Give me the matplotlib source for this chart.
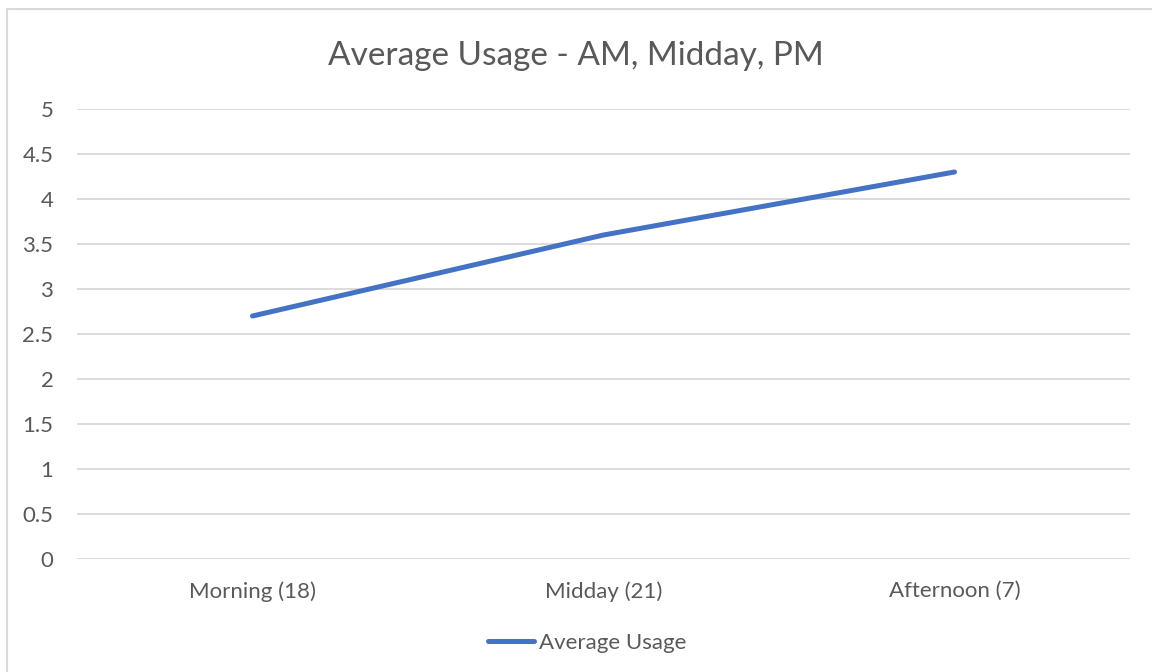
import matplotlib.pyplot as plt
from matplotlib.lines import Line2D
from matplotlib.patches import Rectangle

categories = ["Morning (18)", "Midday (21)", "Afternoon (7)"]
average_usage = [2.7, 3.6, 4.3]
y_ticks = [0, 0.5, 1, 1.5, 2, 2.5, 3, 3.5, 4, 4.5, 5]
y_labels = ["0", "0.5", "1", "1.5", "2", "2.5", "3", "3.5", "4", "4.5", "5"]

TEXT = "#595959"
GRID = "#D9D9D9"
BLUE = "#4472C4"

plt.rcParams["font.family"] = ["Lato", "DejaVu Sans"]

fig = plt.figure(figsize=(11.52, 6.72), dpi=100)
fig.patches.append(Rectangle((7 / 1152, -0.1), 1.2, 1.1 - 9.5 / 672, transform=fig.transFigure,
                             fill=False, edgecolor=GRID, linewidth=1.5))

axis = fig.add_axes([77 / 1152, 1 - 559 / 672, (1130 - 77) / 1152, (559 - 109) / 672])
x = range(len(categories))
axis.plot(x, average_usage, color=BLUE, linewidth=3.6, solid_capstyle="round", label="Average Usage")
axis.set_xlim(-0.5, len(categories) - 0.5)
axis.set_ylim(0, 5)
axis.set_yticks(y_ticks, y_labels)
axis.set_xticks(list(x), categories)
axis.tick_params(length=0, labelsize=16, colors=TEXT)
axis.tick_params(axis="y", pad=17)
axis.tick_params(axis="x", pad=16)
axis.grid(axis="y", color=GRID, linewidth=1.3)
axis.set_axisbelow(True)
for side in ["top", "right", "left", "bottom"]:
    axis.spines[side].set_visible(False)

fig.text(0.5, 1 - 56 / 672, "Average Usage - AM, Midday, PM", ha="center", va="center",
         fontsize=24, color=TEXT)

handle = Line2D([], [], color=BLUE, linewidth=3.6, solid_capstyle="round")
fig.legend([handle], ["Average Usage"], loc="center", bbox_to_anchor=(587 / 1152, 1 - 643 / 672),
           frameon=False, fontsize=16, labelcolor=TEXT, handlelength=2.1, handletextpad=0.2)

fig.savefig("out.png", dpi=100)
